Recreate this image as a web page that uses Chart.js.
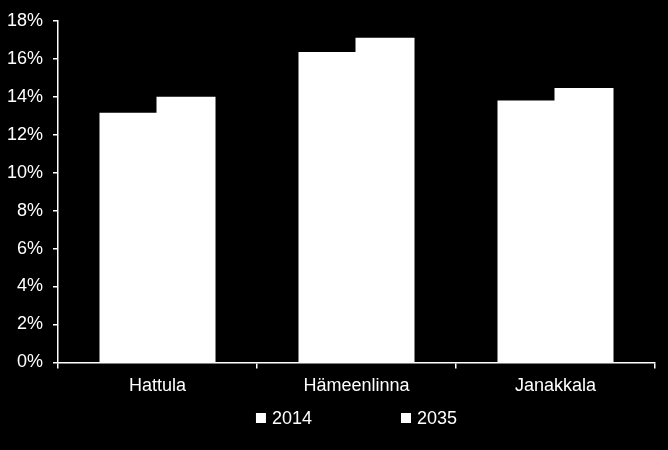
<!DOCTYPE html>
<html>
<head>
<meta charset="utf-8">
<script src="https://cdn.jsdelivr.net/npm/chart.js@4"></script>
<style>
  html, body { margin: 0; padding: 0; background: #000; }
  #wrap { width: 668px; height: 450px; }
</style>
</head>
<body>
<div id="wrap"><canvas id="barChart"></canvas></div>
<script>
const categories = ['Hattula', 'Hämeenlinna', 'Janakkala'];
const values2014 = [13.1, 16.3, 13.75];
const values2035 = [13.95, 17.05, 14.4];
const yTicks = [0, 2, 4, 6, 8, 10, 12, 14, 16, 18];

const FONT = '"Liberation Sans", Arial, sans-serif';
const ctx = document.getElementById('barChart').getContext('2d');
Chart.defaults.font.family = FONT;
Chart.defaults.color = '#fff';

// legend with wide gap between items, centred under the plot area
const wideLegend = {
  id: 'wideLegend',
  afterDraw(chart) {
    const c = chart.ctx;
    const area = chart.chartArea;
    const sets = chart.data.datasets;
    const box = 10, gap = 6, spacing = 89, y = 418;
    c.save();
    c.font = '18px ' + FONT;
    c.textBaseline = 'middle';
    const widths = sets.map(d => box + gap + c.measureText(d.label).width);
    const total = widths.reduce((a, b) => a + b, 0) + spacing * (sets.length - 1);
    let x = (area.left + area.right) / 2 - total / 2;
    sets.forEach((d, i) => {
      c.fillStyle = d.backgroundColor;
      c.fillRect(x, y - box / 2, box, box);
      c.fillStyle = '#fff';
      c.fillText(d.label, x + box + gap, y + 1);
      x += widths[i] + spacing;
    });
    c.restore();
  }
};

new Chart(ctx, {
  type: 'bar',
  data: {
    labels: categories,
    datasets: [
      { label: '2014', data: values2014, backgroundColor: '#fff', borderWidth: 0, inflateAmount: 1 },
      { label: '2035', data: values2035, backgroundColor: '#fff', borderWidth: 0, inflateAmount: 1 }
    ]
  },
  plugins: [wideLegend],
  options: {
    responsive: true,
    maintainAspectRatio: false,
    animation: false,
    layout: { padding: { top: 10, right: 13, left: 0, bottom: 46 } },
    datasets: { bar: { barPercentage: 1, categoryPercentage: 0.573 } },
    plugins: {
      legend: { display: false },
      tooltip: { enabled: false }
    },
    scales: {
      x: {
        grid: { drawOnChartArea: false, color: '#fff', tickLength: 6, lineWidth: 1.5 },
        border: { color: '#fff', width: 1.5 },
        ticks: { color: '#fff', font: { size: 18 }, padding: 7 }
      },
      y: {
        min: 0,
        max: 18,
        afterBuildTicks: (axis) => { axis.ticks = yTicks.map(v => ({ value: v })); },
        afterFit: (axis) => { axis.width = 58; },
        grid: { drawOnChartArea: false, color: '#fff', tickLength: 5, lineWidth: 1.5 },
        border: { color: '#fff', width: 1.5 },
        ticks: { color: '#fff', font: { size: 18 }, padding: 10, callback: (v) => v + '%' }
      }
    }
  }
});
</script>
</body>
</html>
